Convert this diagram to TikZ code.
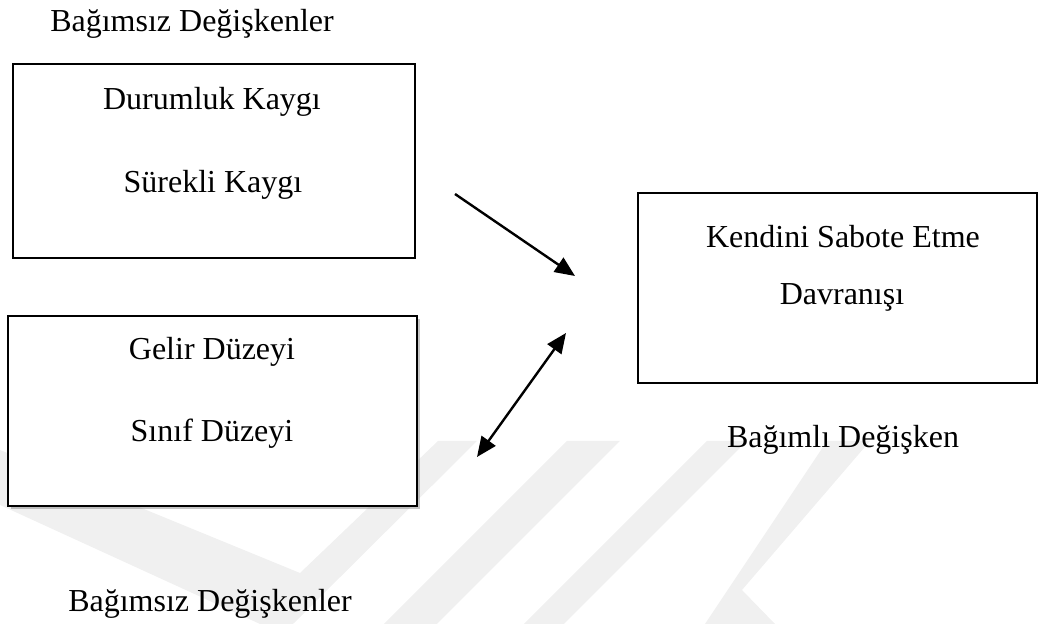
\documentclass[tikz,border=0pt]{standalone}
\usepackage{fontspec}
\setmainfont{Liberation Serif}
\usetikzlibrary{arrows.meta,shadows}

\begin{document}
\begin{tikzpicture}[x=0.5pt,y=-0.5pt,
  every node/.style={font=\fontsize{16}{19}\selectfont, inner sep=0pt, outer sep=0pt},
  degbox/.style={draw, line width=0.7pt, fill=white},
  ok/.style={line width=1.2pt, -{Triangle[length=10pt,width=8.5pt]}},
  filigran/.style={fill=black!6, draw=none}]
\useasboundingbox (0,0) rectangle (1041,624);

% soluk filigran
\fill[filigran] (0,450) -- (300,573) -- (438,441) -- (477,441) -- (293,624) -- (260,624) -- (0,505) -- cycle;
\fill[filigran] (567,441) -- (620,441) -- (437,624) -- (384,624) -- cycle;
\fill[filigran] (707,441) -- (747,441) -- (564,624) -- (524,624) -- cycle;
\fill[filigran] (827,441) -- (870,441) -- (742,590) -- (775,624) -- (705,624) -- cycle;

% kutular
\node[degbox, minimum width=201pt, minimum height=97pt] (kaygi) at (214,161) {};
\node[degbox, minimum width=204.5pt, minimum height=95pt,
      drop shadow={shadow xshift=1.5pt, shadow yshift=-1.5pt, opacity=0.45}] (duzey) at (212.5,411) {};
\node[degbox, minimum width=199.5pt, minimum height=95pt] (sabote) at (837.5,288) {};

% yazilar
\node[anchor=base] (bagimsiz1) at (192,32) {Bağımsız Değişkenler};
\node[anchor=base] (durumluk) at (212,110) {Durumluk Kaygı};
\node[anchor=base] (surekli) at (213,193) {Sürekli Kaygı};
\node[anchor=base] (gelir) at (212,360) {Gelir Düzeyi};
\node[anchor=base] (sinif) at (212,442) {Sınıf Düzeyi};
\node[anchor=base] (kendini) at (843,248) {Kendini Sabote Etme};
\node[anchor=base] (davranis) at (842,305) {Davranışı};
\node[anchor=base] (bagimli) at (843,448) {Bağımlı Değişken};
\node[anchor=base] (bagimsiz2) at (210,612) {Bağımsız Değişkenler};

% oklar
\coordinate (o1a) at (455,194);
\coordinate (o1b) at (575,276);
\coordinate (o2a) at (566,333);
\coordinate (o2b) at (477,457);
\draw[ok] (o1a) -- (o1b);
\draw[ok, {Triangle[length=10pt,width=8.5pt]}-{Triangle[length=10pt,width=8.5pt]}] (o2a) -- (o2b);
\end{tikzpicture}
\end{document}
